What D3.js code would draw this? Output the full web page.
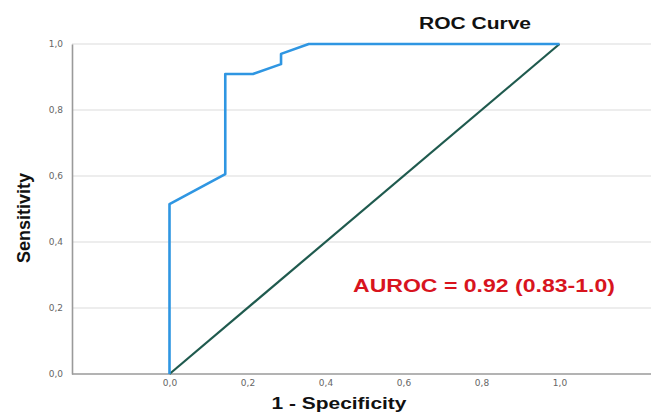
<!DOCTYPE html>
<html><head><meta charset="utf-8">
<script src="https://cdn.jsdelivr.net/npm/d3@7"></script>
<style>body{margin:0;background:#fff;}svg{display:block;font-family:"Liberation Sans",Arial,sans-serif;}</style>
</head><body>
<script>
const rocFPR = [0, 0, 0.143, 0.143, 0.214, 0.286, 0.286, 0.357, 1.0];
const rocTPR = [0, 0.515, 0.606, 0.909, 0.909, 0.939, 0.970, 1.0, 1.0];
const refX = [0, 1];
const refY = [0, 1];
const xTicks = [0, 0.2, 0.4, 0.6, 0.8, 1.0];
const yTicks = [0, 0.2, 0.4, 0.6, 0.8, 1.0];
const title = "ROC Curve";
const xLabel = "1 - Specificity";
const yLabel = "Sensitivity";
const annot = "AUROC = 0.92 (0.83-1.0)";

const W = 651, H = 414;
const svg = d3.select("body").append("svg").attr("width", W).attr("height", H);
const x = d3.scaleLinear().domain([-0.25, 1.25]).range([72, 657]);
const y = d3.scaleLinear().domain([0, 1]).range([374, 44]);
const fmt = d => d3.format(".1f")(d).replace(".", ",");

// grid
svg.append("g").selectAll("line").data(yTicks.filter(d => d > 0)).join("line")
  .attr("x1", x(-0.25)).attr("x2", W).attr("y1", d => y(d)).attr("y2", d => y(d))
  .attr("stroke", "#dcdcdc").attr("stroke-width", 1.2);

// axes
const ya = svg.append("g").attr("transform", `translate(${x(-0.25)},0)`)
  .call(d3.axisLeft(y).tickValues(yTicks).tickFormat(fmt).tickSize(0).tickPadding(9));
const xa = svg.append("g").attr("transform", `translate(0,${y(0)})`)
  .call(d3.axisBottom(x).tickValues(xTicks).tickFormat(fmt).tickSize(0).tickPadding(6));
[ya, xa].forEach(g => {
  g.select(".domain").attr("stroke", "#9a9a9a").attr("stroke-width", 1.6);
  g.selectAll("text").attr("fill", "#666").attr("font-size", 9).attr("font-family", "DejaVu Sans, sans-serif");
});
xa.select(".domain").attr("d", `M${x(-0.25)},0H${W}`);

// reference diagonal
const line = d3.line().x(d => x(d[0])).y(d => y(d[1]));
svg.append("path").datum(refX.map((v, i) => [v, refY[i]])).attr("d", line)
  .attr("fill", "none").attr("stroke", "#1f5a4e").attr("stroke-width", 2.2);

// ROC curve
svg.append("path").datum(rocFPR.map((v, i) => [v, rocTPR[i]])).attr("d", line)
  .attr("fill", "none").attr("stroke", "#2f96e2").attr("stroke-width", 2.6)
  .attr("stroke-linejoin", "round");

// texts
svg.append("text").attr("x", 475).attr("y", 29).attr("text-anchor", "middle")
  .attr("font-weight", "bold").attr("font-size", 16).attr("fill", "#111")
  .attr("textLength", 112).attr("lengthAdjust", "spacingAndGlyphs").text(title);
svg.append("text").attr("x", 339).attr("y", 409).attr("text-anchor", "middle")
  .attr("font-weight", "bold").attr("font-size", 17).attr("fill", "#111")
  .attr("textLength", 135).attr("lengthAdjust", "spacingAndGlyphs").text(xLabel);
svg.append("text").attr("transform", "translate(30,218) rotate(-90)").attr("text-anchor", "middle")
  .attr("font-weight", "bold").attr("font-size", 18).attr("fill", "#111")
  .attr("textLength", 90).attr("lengthAdjust", "spacingAndGlyphs").text(yLabel);
svg.append("text").attr("x", 484).attr("y", 292).attr("text-anchor", "middle")
  .attr("font-weight", "bold").attr("font-size", 19).attr("fill", "#d8141e")
  .attr("textLength", 262).attr("lengthAdjust", "spacingAndGlyphs").text(annot);
</script>
</body></html>
